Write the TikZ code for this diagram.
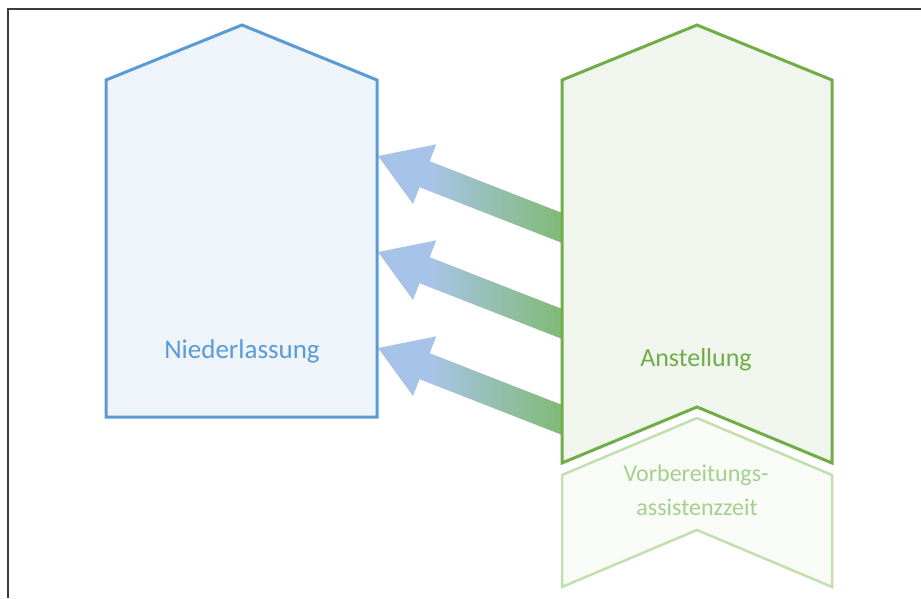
\documentclass[tikz,border=0pt]{standalone}
\usepackage{fontspec}
\setmainfont{Carlito}
\definecolor{frameline}{HTML}{3C3C3C}
\definecolor{niedline}{HTML}{5B9BD5}
\definecolor{niedfill}{HTML}{EFF3FA}
\definecolor{anstline}{HTML}{70AD47}
\definecolor{anstfill}{HTML}{F0F5EE}
\definecolor{vorbline}{HTML}{C2DFB0}
\definecolor{vorbfill}{HTML}{F8FBF6}
\definecolor{vorbtext}{HTML}{A6CF8E}
\definecolor{arrblue}{HTML}{A7C4E8}
\definecolor{arrgreen}{HTML}{82BA78}
% blue head fading into a green tail
\pgfdeclarehorizontalshading{arrowshade}{100bp}{color(0bp)=(arrblue); color(38bp)=(arrblue); color(70bp)=(arrgreen); color(100bp)=(arrgreen)}
\tikzset{
  house/.style={line width=3pt, line join=miter},
  label/.style={anchor=base, inner sep=0pt},
  blockarrow/.style={shading=arrowshade, draw=none}
}
\begin{document}
\begin{tikzpicture}[x=1pt,y=-1pt]
  \useasboundingbox (0,0) rectangle (921,598);
  % frame lines
  \draw[frameline, line width=1.6pt] (8,598) -- (8,9) -- (921,9);

  % block arrows from Anstellung to Niederlassung (drawn first, tails hidden)
  \foreach \dy/\nm in {0/a, 96/b, 192/c} {
    \coordinate (tip\nm) at (378,156+\dy);
    \shade[blockarrow] (tip\nm) -- ++(58.2,-11.6) -- ++(-6.5,16.8) -- ++(148.9,58.2)
      -- ++(-10.2,26.0) -- ++(-148.9,-58.2) -- ++(-6.5,16.8) -- cycle;
  }

  % Niederlassung
  \filldraw[house, draw=niedline, fill=niedfill]
    (106,417) -- (106,80) -- (242,25) -- (377,80) -- (377,417) -- cycle;
  \node[label, text=niedline, font=\fontsize{27}{33}\selectfont] (nied) at (242,358) {Niederlassung};

  % Vorbereitungsassistenzzeit
  \filldraw[line width=2.5pt, line join=miter, draw=vorbline, fill=vorbfill]
    (562,475) -- (697,418) -- (832,475) -- (832,587) -- (697,530) -- (562,587) -- cycle;
  \node[label, text=vorbtext, font=\fontsize{24}{30}\selectfont] (vorb1) at (696,481) {Vorbereitungs-};
  \node[label, text=vorbtext, font=\fontsize{24}{30}\selectfont] (vorb2) at (697,515) {assistenzzeit};

  % Anstellung
  \filldraw[house, draw=anstline, fill=anstfill]
    (562,463) -- (562,80) -- (697,25) -- (832,80) -- (832,463) -- (697,407) -- cycle;
  \node[label, text=anstline, font=\fontsize{26}{32}\selectfont] (anst) at (696,366) {Anstellung};
\end{tikzpicture}
\end{document}
